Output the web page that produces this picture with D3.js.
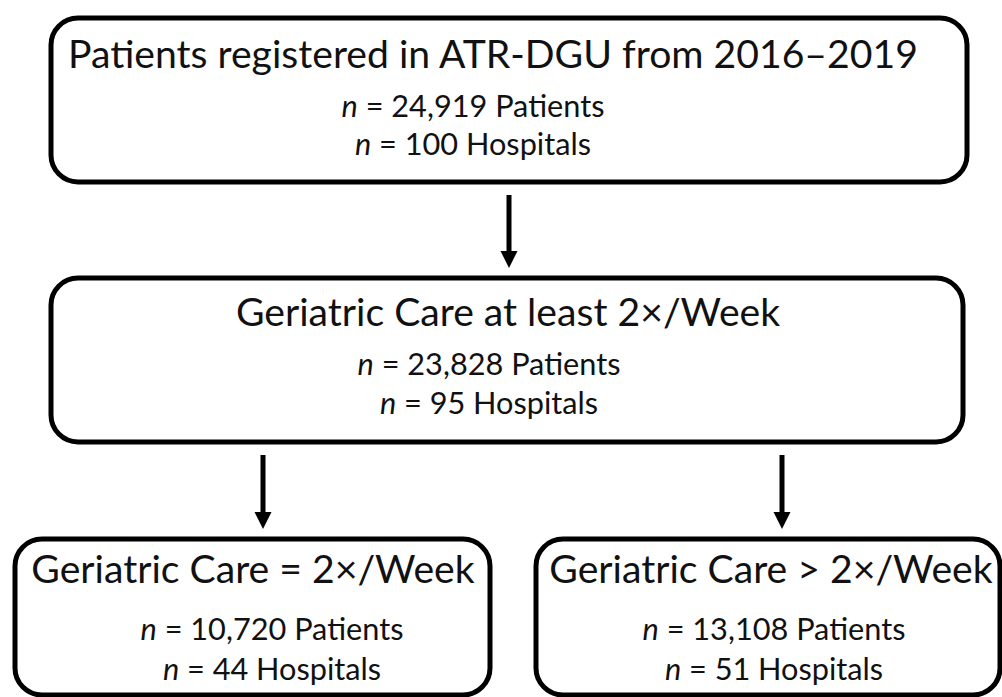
<!DOCTYPE html>
<html>
<head>
<meta charset="utf-8">
<script src="https://cdn.jsdelivr.net/npm/d3@7"></script>
<style>
    html, body { margin: 0; padding: 0; background: #fff; }
    svg { display: block; }
    text { font-family: Lato, Carlito, Calibri, sans-serif; fill: #111; }
</style>
</head>
<body>
<div id="chart"></div>
<script>
// Flow stages (top to bottom)
var stageTitles = ["Patients registered in ATR-DGU from 2016\u20132019",
                   "Geriatric Care at least 2\u00d7/Week",
                   "Geriatric Care = 2\u00d7/Week",
                   "Geriatric Care > 2\u00d7/Week"];
var patientCounts = [24919, 23828, 10720, 13108];
var hospitalCounts = [100, 95, 44, 51];
var links = [[0, 1], [1, 2], [1, 3]];

var width = 1002, height = 697;

// Layout of the boxes (pixels)
var boxes = [
    {x0: 51,  x1: 967,  y0: 18,  y1: 182, titleX: 493, subX: 473, titleY: 50, line1Y: 99,  line2Y: 137},
    {x0: 51,  x1: 963,  y0: 278, y1: 442, titleX: 508, subX: 489, titleY: 48, line1Y: 97,  line2Y: 136},
    {x0: 15,  x1: 490,  y0: 539, y1: 695, titleX: 253, subX: 272, titleY: 44, line1Y: 101, line2Y: 141},
    {x0: 536, x1: 1000, y0: 539, y1: 695, titleX: 771, subX: 774, titleY: 44, line1Y: 101, line2Y: 141}
];
// Arrow x positions, one per link
var arrowX = [509, 263, 782];

var fmt = d3.format(",");

var svg = d3.select("#chart").append("svg")
    .attr("width", width)
    .attr("height", height);

// Arrows
var arrowG = svg.append("g").attr("class", "arrows");
var head = 17;

links.forEach(function(l, i) {
    var x = arrowX[i];
    var ya = boxes[l[0]].y1 + 13;
    var yb = boxes[l[1]].y0 - 10;
    arrowG.append("line")
        .attr("x1", x).attr("x2", x)
        .attr("y1", ya).attr("y2", yb - head + 2)
        .attr("stroke", "#000")
        .attr("stroke-width", 5);
    arrowG.append("path")
        .attr("d", d3.line()([[x - head / 2, yb - head], [x + head / 2, yb - head], [x, yb]]) + "Z")
        .attr("fill", "#000");
});

// Boxes
var nodes = svg.append("g").attr("class", "nodes")
    .selectAll("g")
    .data(stageTitles)
    .enter()
    .append("g")
    .attr("transform", function(d, i) { return "translate(" + boxes[i].x0 + "," + boxes[i].y0 + ")"; });

nodes.append("rect")
    .attr("width", function(d, i) { return boxes[i].x1 - boxes[i].x0; })
    .attr("height", function(d, i) { return boxes[i].y1 - boxes[i].y0; })
    .attr("rx", 27).attr("ry", 27)
    .attr("fill", "#fff")
    .attr("stroke", "#000")
    .attr("stroke-width", 5);

var titles = nodes.append("text")
    .attr("class", "title")
    .attr("text-anchor", "middle")
    .attr("x", function(d, i) { return boxes[i].titleX - boxes[i].x0; })
    .attr("y", function(d, i) { return boxes[i].titleY; })
    .style("font-size", "40px")
    .text(function(d) { return d; });

function subLine(sel, cls, yKey, label) {
    var t = sel.append("text")
        .attr("class", cls)
        .attr("text-anchor", "middle")
        .attr("x", function(d, i) { return boxes[i].subX - boxes[i].x0; })
        .attr("y", function(d, i) { return boxes[i][yKey]; })
        .style("font-size", "30px");
    t.append("tspan").style("font-style", "italic").text("n");
    t.append("tspan").text(function(d, i) { return " = " + label(i); });
    return t;
}

var line1 = subLine(nodes, "patients", "line1Y", function(i) { return fmt(patientCounts[i]) + " Patients"; });
var line2 = subLine(nodes, "hospitals", "line2Y", function(i) { return fmt(hospitalCounts[i]) + " Hospitals"; });

// Calibrate font sizes to the widths seen in the original (Calibri substitute)
var tw = titles.node().getComputedTextLength();
titles.style("font-size", (40 * 850 / tw) + "px");
var sw = line1.node().getComputedTextLength();
var subSize = 30 * 263 / sw;
line1.style("font-size", subSize + "px");
line2.style("font-size", subSize + "px");
</script>
</body>
</html>
